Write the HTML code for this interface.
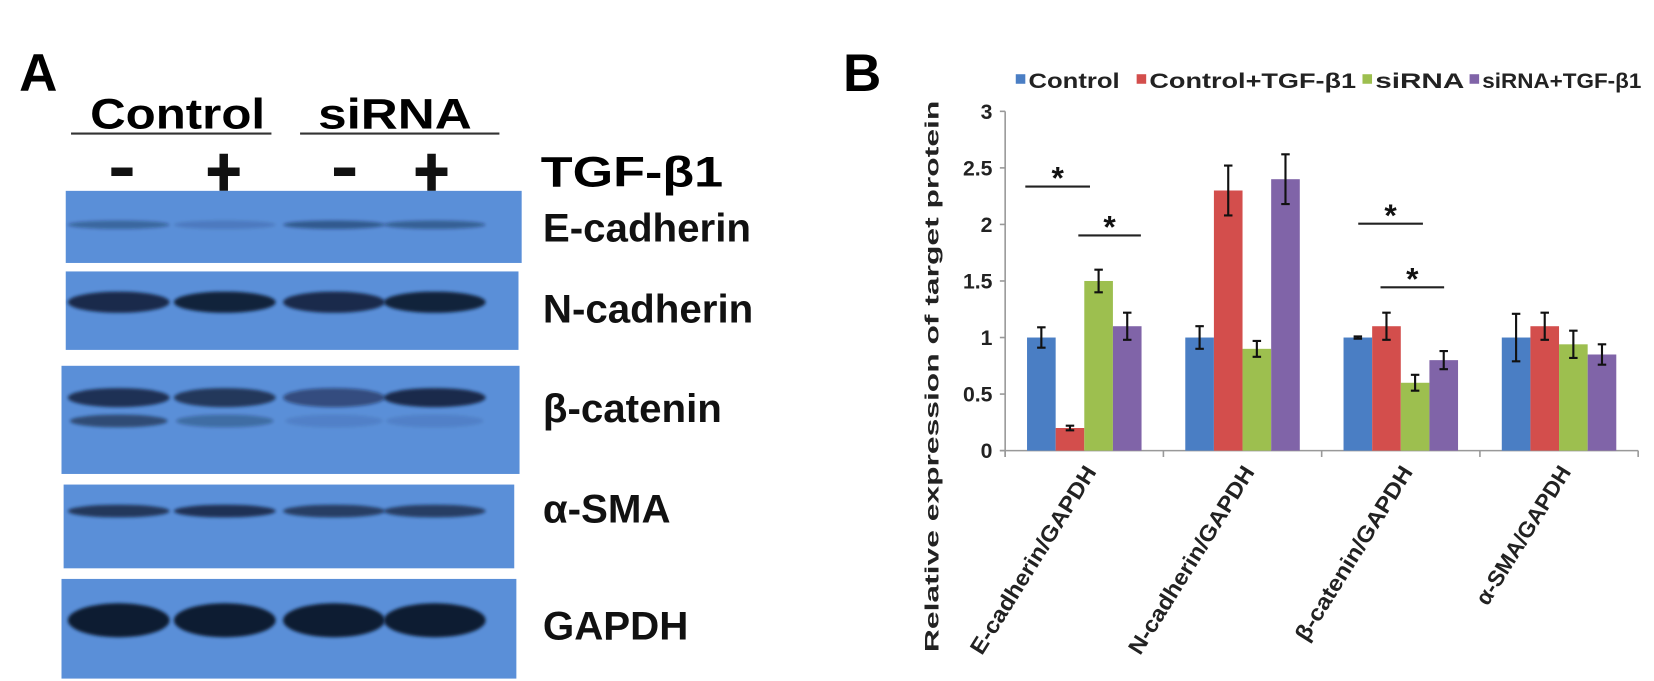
<!DOCTYPE html>
<html><head><meta charset="utf-8"><style>
html,body{margin:0;padding:0;background:#fff;}
svg{display:block;font-family:"Liberation Sans",Arial,sans-serif;}
</style></head><body>
<svg id="fig" width="1654" height="681" viewBox="0 0 1654 681">
<defs>
<filter id="blur2" x="-20%" y="-50%" width="140%" height="200%"><feGaussianBlur stdDeviation="1.5"/></filter>
</defs>
<g transform="scale(1.0603)">
<g>
<text x="18" y="86" font-size="50" font-weight="bold">A</text>
<text x="85" y="121" font-size="40" font-weight="bold" textLength="165" lengthAdjust="spacingAndGlyphs">Control</text>
<text x="300" y="121" font-size="40" font-weight="bold" textLength="145" lengthAdjust="spacingAndGlyphs">siRNA</text>
<line x1="67" y1="126" x2="256" y2="126" stroke="#333" stroke-width="2"/>
<line x1="283" y1="126" x2="471" y2="126" stroke="#333" stroke-width="2"/>
<rect x="105" y="158" width="20" height="8" fill="#111"/>
<rect x="196" y="158" width="30" height="8" fill="#111"/><rect x="207" y="145" width="8" height="35" fill="#111"/>
<rect x="315" y="158" width="20" height="8" fill="#111"/>
<rect x="392" y="158" width="30" height="8" fill="#111"/><rect x="403" y="145" width="8" height="35" fill="#111"/>
<text x="510" y="176" font-size="40" font-weight="bold" textLength="172" lengthAdjust="spacingAndGlyphs">TGF-β1</text>
<g id="blots"></g>
</g>
<g id="chart">
<text x="795" y="86" font-size="50" font-weight="bold">B</text>
</g>
</g>
</svg>
<script>
const NS='http://www.w3.org/2000/svg';
function mk(tag,attrs,parent){const e=document.createElementNS(NS,tag);for(const k in attrs)e.setAttribute(k,attrs[k]);parent.appendChild(e);return e;}
// ---------- Blots ----------
const blotNames=['E-cadherin','N-cadherin','β-catenin','α-SMA','GAPDH'];
const blotIntensity=[[0.35,0.15,0.45,0.4],[0.85,0.95,0.85,0.95],[0.8,0.75,0.55,0.85],[0.75,0.8,0.7,0.7],[1,1,1,1]];
const blotBoxes=[[62,180,430,68],[62,256,427,74],[58,345,432,102],[60,457,425,79],[58,546,429,94]];
const bandY=[212,285,375,482,585];
const bandH=[8,20,18,12,32];
const laneX=[112,212,315,410];
const bg=document.getElementById('blots');
blotBoxes.forEach((b,i)=>{
  const r=mk('rect',{x:b[0],y:b[1],width:b[2],height:b[3],fill:'#5a8fd8'},bg);
  
  
  blotIntensity[i].forEach((v,j)=>{
    const e=mk('ellipse',{cx:laneX[j],cy:bandY[i],rx:48,ry:bandH[i]/2,fill:'#0c1a33','fill-opacity':v,filter:'url(#blur2)'},bg);
    
    
    if(i===2){mk('ellipse',{cx:laneX[j],cy:bandY[i]+22,rx:46,ry:6,fill:'#0c1a33','fill-opacity':[0.6,0.3,0.1,0.1][j],filter:'url(#blur2)'},bg);}
  });
  const t=mk('text',{x:512,y:[228,304,398,493,603][i],'font-size':38,'font-weight':'bold',fill:'#111'},bg);
  t.textContent=blotNames[i];
  
  
});
// ---------- Chart ----------
const categories=['E-cadherin/GAPDH','N-cadherin/GAPDH','β-catenin/GAPDH','α-SMA/GAPDH'];
const seriesNames=['Control','Control+TGF-β1','siRNA','siRNA+TGF-β1'];
const colors=['#4a7ec4','#d34e4c','#9dbf4f','#8064a8'];
const control=[1,1,1,1];
const controlTgf=[0.2,2.3,1.1,1.1];
const sirna=[1.5,0.9,0.6,0.94];
const sirnaTgf=[1.1,2.4,0.8,0.85];
const errControl=[0.09,0.1,0.01,0.21];
const errControlTgf=[0.02,0.22,0.12,0.12];
const errSirna=[0.1,0.07,0.07,0.12];
const errSirnaTgf=[0.12,0.22,0.08,0.09];
const yTicks=[0,0.5,1,1.5,2,2.5,3];
const yTickLabels=['0','0.5','1','1.5','2','2.5','3'];
const series=[control,controlTgf,sirna,sirnaTgf];
const errs=[errControl,errControlTgf,errSirna,errSirnaTgf];
const X0=948,X1=1545,Y0=425,Y1=105,YMAX=3;
const catW=(X1-X0)/categories.length;
const y=v=>Y0-(v/YMAX)*(Y0-Y1);
const xc=i=>X0+catW*(i+0.5);
const barW=27;
const cg=document.getElementById('chart');
let a=mk('line',{x1:X0,y1:Y1,x2:X0,y2:Y0+6,stroke:'#999','stroke-width':1.5},cg);

a=mk('line',{x1:X0-5,y1:Y0,x2:X1,y2:Y0,stroke:'#999','stroke-width':1.5},cg);

yTicks.forEach((t,i)=>{
  mk('line',{x1:X0-5,y1:y(t),x2:X0,y2:y(t),stroke:'#999','stroke-width':1.5},cg);
  const tl=mk('text',{x:X0-12,y:y(t)+7,'font-size':20,'font-weight':'bold','text-anchor':'end',fill:'#222'},cg);
  tl.textContent=yTickLabels[i];
  
  
});
for(let i=0;i<=categories.length;i++) mk('line',{x1:X0+catW*i,y1:Y0,x2:X0+catW*i,y2:Y0+6,stroke:'#999','stroke-width':1.5},cg);
const yt=mk('text',{x:0,y:0,'font-size':18,'font-weight':'bold',fill:'#222','text-anchor':'middle',transform:'translate(885,355) rotate(-90)',textLength:520,lengthAdjust:'spacingAndGlyphs'},cg);
yt.textContent='Relative expression of target protein';


const labelLen=[205,205,190,150];
categories.forEach((c,i)=>{
  series.forEach((s,j)=>{
    const bx=xc(i)-2*barW+j*barW;
    const r=mk('rect',{x:bx,y:y(s[i]),width:barW,height:Y0-y(s[i]),fill:colors[j]},cg);
    
    
    const cx=bx+barW/2,e=errs[j][i];
    const g=mk('path',{d:`M${cx},${y(s[i]+e)}V${y(s[i]-e)}M${cx-4},${y(s[i]+e)}H${cx+4}M${cx-4},${y(s[i]-e)}H${cx+4}`,stroke:'#111','stroke-width':2,fill:'none'},cg);
    
    
  });
  const lx=xc(i)+12;
  const t=mk('text',{x:0,y:0,'font-size':21,'font-weight':'bold',fill:'#222','text-anchor':'end',textLength:labelLen[i],lengthAdjust:'spacingAndGlyphs',transform:`translate(${lx},${Y0+20}) rotate(-58)`},cg);
  t.textContent=c;
  
  
});
const sig=[[967,1028,176],[1017,1076,222],[1281,1342,211],[1302,1362,271]];
sig.forEach(s=>{
  const l=mk('line',{x1:s[0],y1:s[2],x2:s[1],y2:s[2],stroke:'#222','stroke-width':2},cg);
  
  
  const t=mk('text',{x:(s[0]+s[1])/2,y:s[2]+2,'font-size':30,'font-weight':'bold','text-anchor':'middle',fill:'#111'},cg);
  t.textContent='*';
  
  
});
const legX=[958,1072,1285,1386];
const legW=[86,195,84,150];
seriesNames.forEach((n,j)=>{
  const r=mk('rect',{x:legX[j],y:70,width:9,height:9,fill:colors[j]},cg);
  
  
  const t=mk('text',{x:legX[j]+12,y:83,'font-size':20,'font-weight':'bold',fill:'#222',textLength:legW[j],lengthAdjust:'spacingAndGlyphs'},cg);
  t.textContent=n;
  
  
});
</script>
</body></html>
